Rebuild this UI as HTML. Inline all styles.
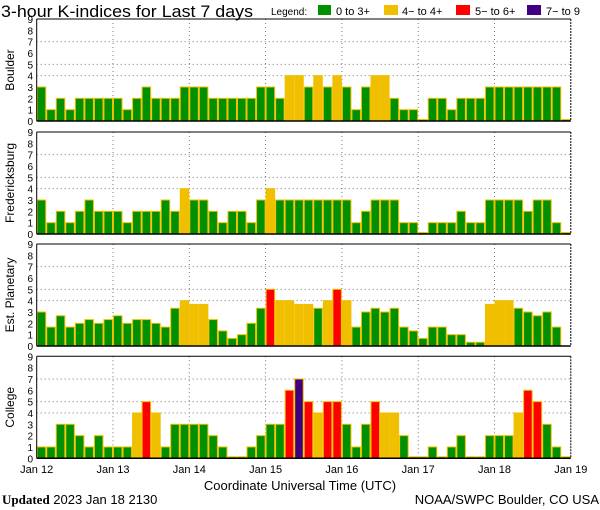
<!DOCTYPE html>
<html><head><meta charset="utf-8"><style>
body{margin:0;background:#fff;width:600px;height:510px;overflow:hidden}
svg{display:block}
text{font-family:"Liberation Sans",sans-serif;fill:#000}
</style></head><body>
<svg id="chart" width="600" height="510" viewBox="0 0 600 510" xmlns="http://www.w3.org/2000/svg">
<text x="1" y="17" font-size="17" textLength="252" lengthAdjust="spacingAndGlyphs">3-hour K-indices for Last 7 days</text>
<g font-size="11">
<text x="271" y="15" font-size="10">Legend:</text>
<rect x="318" y="5" width="13" height="10" fill="#009000"/>
<text x="336" y="15">0 to 3+</text>
<rect x="384" y="5" width="14" height="10" fill="#f0c000"/>
<text x="402" y="15">4− to 4+</text>
<rect x="456" y="5" width="14" height="10" fill="#ff0000"/>
<text x="475" y="15">5− to 6+</text>
<rect x="527" y="5" width="14" height="10" fill="#400080"/>
<text x="546" y="15">7− to 9</text>
</g>
<g id="panels"></g>
<text x="300" y="490" font-size="13" text-anchor="middle">Coordinate Universal Time (UTC)</text>
<text x="2" y="504" font-size="13"><tspan font-family="Liberation Serif" font-weight="bold">Updated</tspan> 2023 Jan 18 2130</text>
<text x="599" y="504" font-size="13" text-anchor="end">NOAA/SWPC Boulder, CO USA</text>
</svg>
<script>
const stations = ["Boulder","Fredericksburg","Est. Planetary","College"];
const boulder = [3,1,2,1,2,2,2,2,2,1,2,3,2,2,2,3,3,3,2,2,2,2,2,3,3,2,4,4,3,4,3,4,3,1,3,4,4,2,1,1,0,2,2,1,2,2,2,3,3,3,3,3,3,3,3,0];
const fredericksburg = [3,1,2,1,2,3,2,2,2,1,2,2,2,3,2,4,3,3,2,1,2,2,1,3,4,3,3,3,3,3,3,3,3,1,2,3,3,3,1,1,0,1,1,1,2,1,1,3,3,3,3,2,3,3,1,0];
const planetary = [3,1.67,2.67,1.67,2,2.33,2,2.33,2.67,2,2.33,2.33,2,1.67,3.33,4,3.67,3.67,2.33,1.33,0.67,1,2,3.33,5,4,4,3.67,3.67,3.33,4,5,4,1.67,3,3.33,3,3.33,1.67,1.33,0.67,1.67,1.67,1,1,0.33,0.33,3.67,4,4,3.33,3,2.67,3,1.67,null];
const college = [1,1,3,3,2,1,2,1,1,1,4,5,4,1,3,3,3,3,2,1,0,0,1,2,3,3,6,7,5,4,5,5,3,1,3,5,4,4,2,0,0,1,0,1,2,0,0,2,2,2,4,6,5,3,1,0];
const seriesList = [boulder,fredericksburg,planetary,college];
const dayLabels = ["Jan 12","Jan 13","Jan 14","Jan 15","Jan 16","Jan 17","Jan 18","Jan 19"];
const yTicks = [0,1,2,3,4,5,6,7,8,9];
const gridLevels = [4,5,7];

const NS="http://www.w3.org/2000/svg";
const X0=36.7, X1=570.8, NB=56, BW=(X1-X0)/NB;
const tops=[19,132,244,356.3], PH=102;
const xScale=i=>X0+i*BW;
const xDay=d=>X0+d*(X1-X0)/7;
function color(v){return v>=6.67?"#400080":v>=4.67?"#ff0000":v>=3.67?"#f0c000":"#009000";}
function mk(tag,attrs,parent){const e=document.createElementNS(NS,tag);for(const k in attrs)e.setAttribute(k,attrs[k]);parent.appendChild(e);return e;}
const root=document.getElementById("panels");
seriesList.forEach((data,p)=>{
  const top=tops[p], base=top+PH;
  const yScale=v=>base-v*PH/9;
  const g=mk("g",{},root);
  
  
  gridLevels.forEach(l=>{const ln=mk("line",{x1:X0,x2:X1,y1:yScale(l),y2:yScale(l),stroke:"#777","stroke-dasharray":"1,3"},g);
    });
  for(let d=1;d<7;d++){const ln=mk("line",{x1:xDay(d),x2:xDay(d),y1:top,y2:base,stroke:"#777","stroke-dasharray":"1,3"},g);
    }
  data.forEach((v,i)=>{
    if(v===null)return;
    const y=v<=0?base-1.5:yScale(v);
    const r=mk("rect",{x:xScale(i)+0.5,y:y,width:BW-1,height:base-y,fill:color(v),stroke:"#f0c000","stroke-width":1},g);
    
    
  });
  mk("line",{x1:X0,x2:X1,y1:top,y2:top,stroke:"#000","stroke-width":1},g);
  mk("line",{x1:X0,x2:X1,y1:base,y2:base,stroke:"#000","stroke-width":1.5},g);
  mk("line",{x1:X0,x2:X0,y1:top,y2:base,stroke:"#000","stroke-width":1},g);
  mk("line",{x1:X1,x2:X1,y1:top,y2:base,stroke:"#000","stroke-width":1,"stroke-dasharray":"2,1"},g);
  yTicks.forEach(t=>{const tx=mk("text",{x:33,y:yScale(t)+4,"font-size":"10","text-anchor":"end"},g);tx.textContent=t;
    });
  const lab=mk("text",{x:0,y:0,"font-size":"12","text-anchor":"middle",transform:`translate(14,${top+PH/2}) rotate(-90)`},g);
  lab.textContent=stations[p];
  
  
});
dayLabels.forEach((d,i)=>{const t=mk("text",{x:xDay(i),y:473,"font-size":"11","text-anchor":"middle"},root);t.textContent=d;
  });
</script>
</body></html>
